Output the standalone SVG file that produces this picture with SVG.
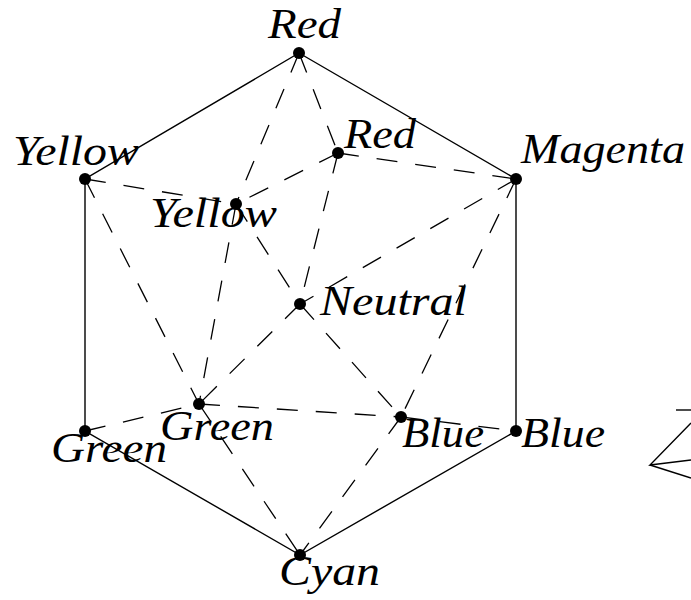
<svg xmlns="http://www.w3.org/2000/svg" width="691" height="600" viewBox="0 0 691 600">
<style>
.solid{stroke:#000;stroke-width:1.4;fill:none}
.dash{stroke:#000;stroke-width:1.3;fill:none;stroke-dasharray:21 18}
.dot{fill:#000}
.lbl{font-family:"Liberation Serif","Times New Roman",serif;font-style:italic;font-size:43px;fill:#000}
</style>
<g id="connectors">
<polygon class="solid" points="299,53 516,179 516,431 300,555 85,431 85,179"/>
<line class="dash" x1="299" y1="53" x2="236" y2="204"/>
<line class="dash" x1="299" y1="53" x2="338" y2="153"/>
<line class="dash" x1="338" y1="153" x2="516" y2="179"/>
<line class="dash" x1="338" y1="153" x2="236" y2="204"/>
<line class="dash" x1="338" y1="153" x2="300" y2="304"/>
<line class="dash" x1="85" y1="179" x2="236" y2="204"/>
<line class="dash" x1="85" y1="179" x2="199" y2="404"/>
<line class="dash" x1="236" y1="204" x2="199" y2="404"/>
<line class="dash" x1="236" y1="204" x2="300" y2="304"/>
<line class="dash" x1="516" y1="179" x2="300" y2="304"/>
<line class="dash" x1="516" y1="179" x2="401" y2="417"/>
<line class="dash" x1="300" y1="304" x2="199" y2="404"/>
<line class="dash" x1="300" y1="304" x2="401" y2="417"/>
<line class="dash" x1="199" y1="404" x2="401" y2="417"/>
<line class="dash" x1="85" y1="431" x2="199" y2="404"/>
<line class="dash" x1="199" y1="404" x2="300" y2="555"/>
<line class="dash" x1="401" y1="417" x2="300" y2="555"/>
<line class="dash" x1="401" y1="417" x2="516" y2="431"/>
</g>
<g id="red-outer"><circle class="dot" cx="299" cy="53" r="6"/><text class="lbl" x="268" y="38" textLength="73" lengthAdjust="spacingAndGlyphs">Red</text></g>
<g id="magenta"><circle class="dot" cx="516" cy="179" r="6"/><text class="lbl" x="521" y="163" textLength="164" lengthAdjust="spacingAndGlyphs">Magenta</text></g>
<g id="blue-outer"><circle class="dot" cx="516" cy="431" r="6"/><text class="lbl" x="521" y="447" textLength="84" lengthAdjust="spacingAndGlyphs">Blue</text></g>
<g id="cyan"><circle class="dot" cx="300" cy="555" r="6"/><text class="lbl" x="279" y="585" textLength="101" lengthAdjust="spacingAndGlyphs">Cyan</text></g>
<g id="green-outer"><circle class="dot" cx="85" cy="431" r="6"/><text class="lbl" x="51" y="462" textLength="116" lengthAdjust="spacingAndGlyphs">Green</text></g>
<g id="yellow-outer"><circle class="dot" cx="85" cy="179" r="6"/><text class="lbl" x="13" y="165" textLength="126" lengthAdjust="spacingAndGlyphs">Yellow</text></g>
<g id="red-inner"><circle class="dot" cx="338" cy="153" r="6"/><text class="lbl" x="344" y="148" textLength="72" lengthAdjust="spacingAndGlyphs">Red</text></g>
<g id="yellow-inner"><circle class="dot" cx="236" cy="204" r="6"/><text class="lbl" x="150" y="227" textLength="127" lengthAdjust="spacingAndGlyphs">Yellow</text></g>
<g id="neutral"><circle class="dot" cx="300" cy="304" r="6"/><text class="lbl" x="320" y="315" textLength="147" lengthAdjust="spacingAndGlyphs">Neutral</text></g>
<g id="green-inner"><circle class="dot" cx="199" cy="404" r="6"/><text class="lbl" x="160" y="440" textLength="114" lengthAdjust="spacingAndGlyphs">Green</text></g>
<g id="blue-inner"><circle class="dot" cx="401" cy="417" r="6"/><text class="lbl" x="402" y="447" textLength="82" lengthAdjust="spacingAndGlyphs">Blue</text></g>
<g id="partial-shape">
<line class="solid" x1="676" y1="410" x2="691" y2="410"/>
<polyline class="solid" points="691,423 650,465 691,460"/>
<line class="solid" x1="650" y1="465" x2="691" y2="478"/>
</g>
</svg>
